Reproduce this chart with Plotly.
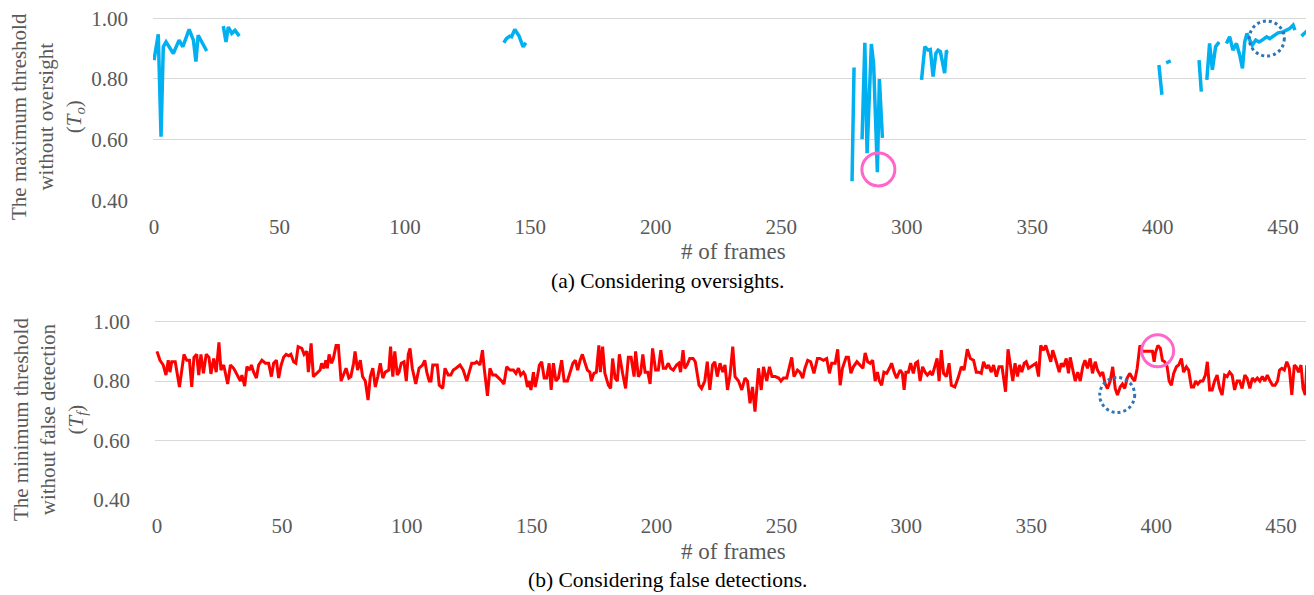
import plotly.graph_objects as go

# ---------------- data ----------------
# (a) maximum threshold without oversight, None = no value (gap)
TO_FRAMES = [0, 1.7, 2.8, 3.7, 4.8, 7.7, 10, 11.5, 14, 15.7, 16.7, 17.6, 21, None,
             27.6, 28.7, 29.6, 31, 32.3, 34, None,
             139.4, 140.5, 141.8, 142.5, 143.8, 145.5, 147.1, 148.2, None,
             278.2, 279, None,
             282.2, 283.3, 284.2, 285.9, 286.8, 288.3, 289.1, 290.3, None,
             305.9, 307.2, 308.5, 309.4, 310.5, 311.6, 312.5, 313.4, 315.1, 315.8, 316.5, None,
             400.5, 401.7, None,
             403.4, 405.2, None,
             416.5, 417.4, None,
             419.6, 420.7, 421.8, 423.1, 424.5, None,
             427.4, 428.7, 430, 431.4, 432.7, 433.8, 434.7, 435.6, 436.7, 437.7, 439.1, 440.4,
             441.7, 443.4, 444.7, 446.3, 448, 450, 451.3, 452.6, 454, 454.7, None,
             457.3, 458.6, 459.9, 461.2, 462]
TO_VALUES = [0.862, 0.947, 0.61, 0.906, 0.922, 0.884, 0.928, 0.906, 0.963, 0.928, 0.857, 0.944, 0.892, None,
             0.974, 0.922, 0.971, 0.95, 0.96, 0.941, None,
             0.919, 0.933, 0.941, 0.939, 0.963, 0.941, 0.906, 0.919, None,
             0.463, 0.838, None,
             0.602, 0.919, 0.556, 0.915, 0.85, 0.493, 0.80, 0.606, None,
             0.797, 0.906, 0.895, 0.897, 0.808, 0.884, 0.895, 0.89, 0.819, 0.89, 0.893, None,
             0.846, 0.748, None,
             0.853, 0.86, None,
             0.862, 0.758, None,
             0.797, 0.917, 0.83, 0.906, 0.922, None,
             0.917, 0.939, 0.895, 0.917, 0.879, 0.835, 0.922, 0.95, 0.928, 0.911, 0.928, 0.922,
             0.928, 0.939, 0.933, 0.944, 0.952, 0.955, 0.961, 0.966, 0.977, 0.961, None,
             0.941, 0.95, 0.961, 0.944, 0.95]

# (b) minimum threshold without false detection
TF_FRAMES = [0, 1.2, 2.5, 3.6, 4.5, 5.2, 5.9, 7.3, 9, 10.8, 11.9, 13, 13.9, 14.8, 15.9, 16.7, 17.6, 18.6,
             19.7, 20.8, 21.6, 22.7, 23.7, 24.8, 25.6, 26.7, 28.3, 29.4, 30.7, 32, 33.4, 34, 35.1, 36,
             37.1, 37.8, 38.7, 39.8, 40.7, 42, 43.4, 44.7, 45.8, 46.7, 47.8, 48.7, 49.7, 50.7, 51.7,
             52.7, 53.6, 54.7, 55.6, 56.5, 58, 58.9, 60, 60.6, 61.7, 62.6, 64.2, 65.3, 65.9, 66.8,
             67.6, 68.2, 68.9, 69.9, 70.6, 71.7, 72.6, 73.7, 74.9, 75.7, 76.8, 77.6, 78.7, 79.3,
             80.3, 81.4, 82.3, 83.4, 84.5, 85.4, 86.4, 87.4, 88.4, 89.4, 90.4, 91.4, 92.8, 93.5,
             94.4, 95.2, 96.2, 96.9, 97.8, 98.9, 99.8, 100.6, 101.3, 102.2, 103.6, 104.9, 106.3,
             107.2, 108, 109, 109.7,
             110.4, 111.3, 112.2, 113, 114.4, 115.3, 116.6, 117.6, 118.6, 119.7, 121.3, 122.6, 124,
             125, 126, 127.3, 128, 129.3, 130.3, 131, 132.3, 133.3, 134.4, 135.6, 136.9, 138, 138.9,
             140, 141.3, 142.7, 143.7, 144.7, 145.6, 146.7, 147.4, 148.3, 149, 149.7, 150.7, 151.4,
             152.3, 153.1, 154, 155, 156, 157, 157.8, 158.7, 159.7, 160.7, 162, 163, 164.3, 165.4,
             166.5, 167.5, 168.4, 169.4, 170.3, 171.4, 172.3, 173.3, 173.9, 174.9, 175.9, 176.9,
             177.5, 178.4, 179.3, 180.7, 181.6, 182.4, 183.4, 184.3, 185.1, 186.4, 187.6, 188.7,
             189.8, 191, 191.6, 192.7, 193.6, 194.5, 195.4, 196.5, 197.4, 198.4, 199.6, 200.7,
             201.7, 202.7, 203.7, 204.7, 205.6, 206.7, 208, 208.9, 209.6, 210.6, 211.3, 212.2,
             213.3, 214.6, 215.5, 217, 218, 219.3, 220.3, 221.3, 222.4, 223.3, 224.3,
             225.4, 226.5, 227.4, 228.4, 229.4, 230.5, 231.4, 232.8, 234.1, 235.4, 236.4, 237.4,
             238.4, 239.4, 240.8, 241.9, 242.8, 244.1, 245.2, 246.2, 247.5, 248.9, 249.8, 250.8,
             252.1, 253.1, 254.1, 255, 256.4, 257.4, 258.5, 259.4, 260.5, 261.7, 263, 264.4, 265.4,
             266.8, 268.1, 269.2, 270.1, 271.5, 272.5, 273.5, 274.4, 275.9, 276.8, 277.8, 278.8,
             280.2, 281.3, 282.6, 283.5, 284.5, 285.5, 286.5, 287.5, 288.4, 289.2, 290.1, 291,
             292.1, 293.2, 294.1, 295.1, 296.1, 297.5, 298.4, 299.1, 299.8, 300.8, 301.7, 302.8,
             303.7, 304.5, 305.5, 306.5, 307.5, 308.4, 309.5, 310.4, 311.4, 312.3, 313.1, 314,
             314.9, 316, 317.1, 318, 319.4, 320.7, 322, 323.1, 324.4, 325.6, 326.9, 328, 329, 330,
             330.9, 332, 332.9, 334, 334.9, 336, 337.1, 338.3, 339.7, 340.7,
             342.6, 343.5, 344.5, 345.3, 346.2, 347.2, 348, 348.9, 349.8, 350.9, 351.9, 352.9,
             353.8, 354.9, 355.8, 356.9, 357.8, 358.6, 359.6, 360.2, 361.2, 362, 362.9, 364, 364.9,
             365.6, 366.5, 367.6, 368.6, 369.6, 370.6, 371.5, 372.5, 373.6, 374.5, 375.6, 376.5,
             377.6, 378.6, 379.6, 380.5, 381.6, 382.6, 383.6, 384.5, 385.6, 386.5, 387.4, 388.4,
             389.4, 390.5, 391.4, 392.4, 393.5, 394.5, 395.8, 397.2, 398.5, 399.2, 399.7, 400.7,
             401.7, 402.5, 403.4, 404.4, 405.2, 406.1, 407, 408.1, 409, 410.1, 411, 412.1, 413,
             414.1, 415, 415.8, 416.7, 417.7, 418.7, 419.7, 420.5, 421.4, 422.4, 423.4, 424.4,
             425.4, 426.4, 427.4, 428.4, 429.4, 430.4, 431.4, 432.4, 433.4, 434.4, 435.5, 436.4,
             437.5, 438.5, 439.5, 440.5, 441.5, 442.5, 443.5, 444.5, 445.6, 446.6, 447.6, 448.6,
             449.4, 450.3, 451.3, 452.3, 453.3, 454.3, 455.3, 456.1, 457, 458, 458.8, 459.7, 460.3]
TF_VALUES = [0.90, 0.87, 0.854, 0.82, 0.87, 0.83, 0.865, 0.865, 0.78, 0.89, 0.87, 0.87, 0.78, 0.88, 0.89,
             0.82, 0.89, 0.826, 0.89, 0.88, 0.824, 0.876, 0.83, 0.93, 0.837, 0.854, 0.79, 0.854, 0.843,
             0.82, 0.80, 0.82, 0.783, 0.848, 0.837, 0.854, 0.83, 0.81, 0.854, 0.87, 0.86, 0.86, 0.815,
             0.86, 0.87, 0.81, 0.854, 0.88, 0.89, 0.885, 0.89, 0.865, 0.86, 0.916, 0.91, 0.89, 0.90,
             0.83, 0.927, 0.815, 0.83, 0.837, 0.86, 0.843, 0.87, 0.843, 0.89, 0.86, 0.876, 0.92, 0.92,
             0.80, 0.826, 0.843, 0.81, 0.815, 0.86, 0.90, 0.837, 0.87, 0.815, 0.80, 0.736, 0.815,
             0.843, 0.78, 0.815, 0.86, 0.81, 0.83, 0.837, 0.916, 0.815, 0.90, 0.82, 0.83, 0.86, 0.865,
             0.80, 0.89, 0.91, 0.843, 0.79, 0.843, 0.854, 0.87, 0.83, 0.80, 0.80,
             0.854, 0.854, 0.854, 0.786, 0.775, 0.843, 0.82, 0.82, 0.837, 0.843, 0.854, 0.837, 0.80,
             0.83, 0.86, 0.86, 0.865, 0.854, 0.904, 0.843, 0.75, 0.843, 0.82, 0.82, 0.81, 0.80, 0.79,
             0.848, 0.837, 0.837, 0.826, 0.843, 0.82, 0.83, 0.82, 0.78, 0.80, 0.77, 0.83, 0.78, 0.815,
             0.854, 0.865, 0.81, 0.81, 0.86, 0.77, 0.86, 0.80, 0.81, 0.87, 0.80, 0.80, 0.83, 0.86,
             0.87, 0.837, 0.87, 0.89, 0.86, 0.837, 0.83, 0.80, 0.826, 0.83, 0.92, 0.83, 0.916, 0.826,
             0.786, 0.775, 0.876, 0.81, 0.80, 0.89, 0.826, 0.775, 0.88, 0.88, 0.815, 0.90, 0.815,
             0.826, 0.89, 0.83, 0.83, 0.79, 0.91, 0.837, 0.837, 0.904, 0.843, 0.843, 0.86, 0.843,
             0.837, 0.854, 0.86, 0.83, 0.904, 0.843, 0.854, 0.876, 0.876, 0.865, 0.786, 0.775, 0.80,
             0.865, 0.77, 0.854, 0.865, 0.815,
             0.86, 0.83, 0.854, 0.77, 0.82, 0.916, 0.815, 0.80, 0.77, 0.81, 0.80, 0.725, 0.78, 0.697,
             0.843, 0.77, 0.848, 0.80, 0.848, 0.815, 0.815, 0.81, 0.80, 0.81, 0.81, 0.843, 0.88,
             0.815, 0.837, 0.83, 0.81, 0.843, 0.87, 0.865, 0.826, 0.876, 0.876, 0.87, 0.876, 0.826,
             0.86, 0.86, 0.907, 0.786, 0.843, 0.88, 0.88, 0.826, 0.848, 0.865, 0.854, 0.843, 0.895,
             0.865, 0.86, 0.87, 0.80, 0.83, 0.80, 0.786, 0.83, 0.826, 0.843, 0.86, 0.83, 0.81, 0.837,
             0.826, 0.77, 0.83, 0.83, 0.86, 0.826, 0.86, 0.865, 0.80, 0.848, 0.83, 0.82, 0.83, 0.82,
             0.848, 0.876, 0.80, 0.904, 0.826, 0.815, 0.86, 0.786, 0.78, 0.81, 0.848, 0.837, 0.907,
             0.876, 0.87, 0.83, 0.83, 0.826, 0.865, 0.843, 0.854, 0.83, 0.854, 0.815, 0.848, 0.848,
             0.764, 0.907,
             0.80, 0.86, 0.815, 0.854, 0.83, 0.86, 0.865, 0.843, 0.848, 0.854, 0.86, 0.815, 0.92,
             0.904, 0.92, 0.89, 0.865, 0.904, 0.87, 0.86, 0.83, 0.86, 0.848, 0.876, 0.826, 0.88,
             0.843, 0.80, 0.83, 0.80, 0.848, 0.87, 0.843, 0.876, 0.826, 0.865, 0.837, 0.82, 0.83,
             0.79, 0.775, 0.80, 0.848, 0.775, 0.753, 0.78, 0.79, 0.775, 0.81, 0.826, 0.81, 0.80,
             0.843, 0.92, 0.90, 0.90, 0.90, 0.90, 0.865, 0.895, 0.92, 0.91, 0.87, 0.865, 0.848, 0.80,
             0.786, 0.826, 0.848, 0.854, 0.876, 0.83, 0.848, 0.837, 0.78, 0.78, 0.80, 0.79, 0.80,
             0.80, 0.82, 0.865, 0.77, 0.77, 0.80, 0.82, 0.775, 0.753, 0.82, 0.815, 0.83, 0.82, 0.77,
             0.80, 0.80, 0.775, 0.82, 0.81, 0.775, 0.81, 0.80, 0.81, 0.80, 0.815, 0.80, 0.82, 0.80,
             0.786, 0.786, 0.80, 0.837, 0.843, 0.837, 0.865, 0.843, 0.753, 0.854, 0.848, 0.83, 0.854,
             0.775, 0.753, 0.854]

X_TICKS = [0, 50, 100, 150, 200, 250, 300, 350, 400, 450]
Y_TICKS = [0.4, 0.6, 0.8, 1.0]
Y_TICK_TEXT = ["0.40", "0.60", "0.80", "1.00"]

# highlight circles: (frame, value, colour, dash, radius px)
TOP_MARKS = [(288.7, 0.502, "#FF66CC", "solid", 16.5), (443.5, 0.933, "#2E75B6", "dot", 17.5)]
BOT_MARKS = [(400.6, 0.902, "#FF66CC", "solid", 16), (384.4, 0.753, "#2E75B6", "dot", 17.5)]

FONT = "Liberation Serif"
GRAY = "#595959"

fig = go.Figure()
fig.add_trace(go.Scatter(x=TO_FRAMES, y=TO_VALUES, mode="lines", connectgaps=False,
                         line=dict(color="#00B0F0", width=3.5), xaxis="x", yaxis="y",
                         showlegend=False, hoverinfo="skip"))
fig.add_trace(go.Scatter(x=TF_FRAMES, y=TF_VALUES, mode="lines",
                         line=dict(color="#FF0000", width=3), xaxis="x2", yaxis="y2",
                         showlegend=False, hoverinfo="skip"))

shapes = []
for marks, xr, yr in [(TOP_MARKS, "x", "y"), (BOT_MARKS, "x2", "y2")]:
    for fx, fy, col, dash, r in marks:
        shapes.append(dict(type="circle", xref=xr, yref=yr, xsizemode="pixel", ysizemode="pixel",
                           xanchor=fx, yanchor=fy, x0=-r, x1=r, y0=-r, y1=r,
                           line=dict(color=col, width=3, dash=dash)))

tickfont = dict(family=FONT, size=21, color=GRAY)
xcommon = dict(showgrid=False, zeroline=False, showline=False, ticks="", tickfont=tickfont,
               ticklabelstandoff=11, automargin=False, ticklabeloverflow="allow")
ycommon = dict(showgrid=True, gridcolor="#D9D9D9", gridwidth=1, zeroline=False, showline=False,
               ticks="", tickfont=tickfont, ticklabelstandoff=24, automargin=False,
               ticklabeloverflow="allow",
               tickvals=Y_TICKS, ticktext=Y_TICK_TEXT, range=[0.399, 1.004])

# The page body adds an 8 px offset; the margins below compensate for it.
fig.update_layout(
    width=1314, height=595,
    margin=dict(l=145, r=0, t=9, b=103),
    paper_bgcolor="white", plot_bgcolor="white",
    font=dict(family=FONT, color=GRAY),
    shapes=shapes,
    xaxis=dict(domain=[0, 1], range=[-0.4, 465.5], anchor="y", tickvals=X_TICKS, **xcommon),
    yaxis=dict(domain=[0.6195, 1], anchor="x", **ycommon),
    xaxis2=dict(domain=[0.0017, 0.9872], range=[-0.8, 460.4], anchor="y2", tickvals=X_TICKS, **xcommon),
    yaxis2=dict(domain=[0, 0.3716], anchor="x2", **ycommon),
)

ann = [
    dict(text="The maximum threshold<br>without oversight<br>(<i>T<sub>o</sub></i>)",
         x=-0.0898, y=0.793, textangle=-90, font=dict(family=FONT, size=21, color=GRAY)),
    dict(text="The minimum threshold<br>without false detection<br>(<i>T<sub>f</sub></i>)",
         x=-0.0889, y=0.1656, textangle=-90, font=dict(family=FONT, size=21, color=GRAY)),
    dict(text="# of frames", x=0.497, y=0.5135, font=dict(family=FONT, size=23, color=GRAY)),
    dict(text="# of frames", x=0.497, y=-0.1056, font=dict(family=FONT, size=23, color=GRAY)),
    dict(text="(a) Considering oversights.", x=0.4397, y=0.4534,
         font=dict(family=FONT, size=21.5, color="black")),
    dict(text="(b) Considering false detections.", x=0.4397, y=-0.1656,
         font=dict(family=FONT, size=21.5, color="black")),
]
for a in ann:
    a.update(xref="paper", yref="paper", showarrow=False, xanchor="center", yanchor="middle")
fig.update_layout(annotations=ann)

fig.write_html("out.html")
